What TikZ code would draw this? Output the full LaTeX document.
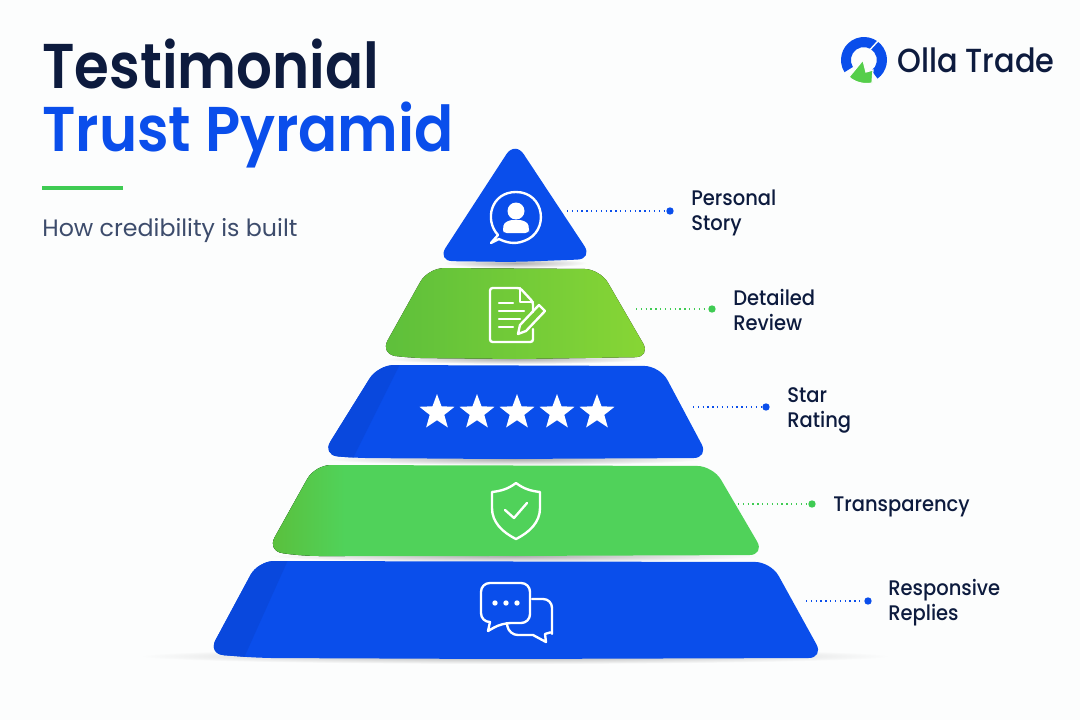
\documentclass[tikz,border=0pt]{standalone}
\usepackage{fontspec}
\setmainfont{Poppins}[BoldFont={Poppins SemiBold}]
\newfontfamily\medfont{Poppins Medium}
\usetikzlibrary{shapes.geometric}
\definecolor{pagebg}{HTML}{FCFDFD}
\definecolor{inkdark}{HTML}{0D1B3E}
\definecolor{inksub}{HTML}{3D4C6C}
\definecolor{trustblue}{HTML}{0A4EEB}
\definecolor{bluedeep}{HTML}{0948DD}
\definecolor{trustgreen}{HTML}{3FCB53}
\definecolor{greenA}{HTML}{5DBF3B}
\definecolor{greenB}{HTML}{88D635}
\definecolor{greenC}{HTML}{50D25A}
\definecolor{greenD}{HTML}{5CBD38}
\tikzset{
    tierlabel/.style={anchor=west, align=left, inner sep=0pt, xscale=0.925, text=inkdark, font=\medfont\fontsize{12}{14.2}\selectfont},
    enddot/.style={circle, inner sep=0pt, minimum size=4.2pt},
    leader/.style={dotted, line width=0.75pt},
    iconline/.style={draw=white, line width=1.35pt, line join=round, line cap=round},
    tiershadow/.style={shade, inner color=black!32, outer color=pagebg},
    ministar/.style={star, star points=5, star point ratio=2.4, fill=white, inner sep=0pt, minimum size=21pt},
    bigtitle/.style={anchor=base west, inner sep=0pt, font=\fontsize{36}{36}\selectfont\bfseries},
}
\begin{document}
\begin{tikzpicture}[x=0.02cm, y=-0.02cm]
    \useasboundingbox (0,0) rectangle (1080,720);
    \fill[pagebg] (0,0) rectangle (1080,720);

    % HEADING
    \node[bigtitle, text=inkdark, xscale=0.89] (title) at (42,89) {Testimonial};
    \node[bigtitle, text=trustblue, xscale=0.915] (subject) at (42,151) {Trust Pyramid};
    \fill[trustgreen] (42,186) rectangle (123,190);
    \node[anchor=base west, inner sep=0pt, text=inksub, font=\fontsize{13.5}{16}\selectfont] (strap) at (42,236) {How credibility is built};

    % LOGO
    \fill[trustblue] (864,60) ++(148:23) arc[start angle=148, end angle=414, radius=23] -- ++(-6,-8)
        arc[start angle=414, end angle=148, radius=13] -- cycle;
    \fill[trustgreen!70!greenB, draw=pagebg, line width=0.7pt] (863,60) -- (849,77) .. controls (854,82) and (864,85) .. (872,83) -- (873,70) -- (866,72) -- cycle;
    \draw[pagebg, line width=0.8pt] (866,54) -- (878,41);
    \node[anchor=base west, inner sep=0pt, xscale=0.91, text=inkdark, font=\medfont\fontsize{19}{20}\selectfont] (brand) at (897,72) {Olla Trade};

    % SHADOWS
    \path[tiershadow] (515,656) ellipse (375 and 8);
    \path[tiershadow] (515,263) ellipse (72 and 5);
    \path[tiershadow] (515,359) ellipse (130 and 5);
    \path[tiershadow] (515,459) ellipse (190 and 6);
    \path[tiershadow] (515,556) ellipse (245 and 6);

    % TIER 5
    \fill[trustblue, rounded corners=9pt] (258,561) -- (771,562) -- (824,658) -- (500,659) -- (260,658) -- (208,654) -- cycle;
    \begin{scope}
        \clip[rounded corners=9pt] (258,561) -- (771,562) -- (824,658) -- (500,659) -- (260,658) -- (208,654) -- cycle;
        \fill[bluedeep] (250,560) -- (288,560) -- (243,660) -- (200,660) -- cycle;
    \end{scope}

    % TIER 4
    \begin{scope}
        \clip[rounded corners=9pt] (315,465) -- (713,466) -- (765,555) -- (500,556) -- (303,556) -- (267,551) -- cycle;
        \fill[greenC] (260,460) rectangle (770,560);
        \fill[left color=greenD, right color=greenC] (260,460) rectangle (345,560);
    \end{scope}

    % TIER 3
    \fill[trustblue, rounded corners=9pt] (378,365) -- (660,366) -- (709,458) -- (500,459) -- (355,458) -- (322,455) -- cycle;
    \begin{scope}
        \clip[rounded corners=9pt] (378,365) -- (660,366) -- (709,458) -- (500,459) -- (355,458) -- (322,455) -- cycle;
        \fill[bluedeep] (370,360) -- (402,360) -- (352,460) -- (315,460) -- cycle;
    \end{scope}

    % TIER 2
    \fill[left color=greenA, right color=greenB, rounded corners=9pt] (428,268) -- (600,269) -- (651,357) -- (520,359) -- (410,358) -- (380,354) -- cycle;

    % TIER 1
    \fill[trustblue, rounded corners=9pt] (515,141) -- (593,259) -- (515,262) -- (437,261) -- cycle;

    % CONNECTORS
    \foreach \nm/\xa/\xb/\yy/\col in {story/567/670/211/trustblue, review/636/712/309/trustgreen,
                                      rating/693/766/407/trustblue, clear/738/812/504/trustgreen,
                                      reply/806/868/601/trustblue} {
        \coordinate (\nm start) at (\xa,\yy);
        \node[enddot, fill=\col] (\nm dot) at (\xb,\yy) {};
        \draw[leader, draw=\col] (\nm start) -- (\nm dot);
    }

    % LABELS
    \node[tierlabel] (story) at (691,212.5) {Personal\\Story};
    \node[tierlabel] (review) at (733,310) {Detailed\\Review};
    \node[tierlabel] (rating) at (787,410.5) {Star\\Rating};
    \node[tierlabel] (clear) at (833,507) {Transparency};
    \node[tierlabel] (reply) at (888,602.5) {Responsive\\Replies};

    % Person in a speech bubble
    \draw[iconline] (498,235) .. controls (484,220) and (491,192) .. (516,192)
        .. controls (545,192) and (550,232) .. (524,241) .. controls (514,245) and (505,242) .. (499,239)
        -- (491,243) -- cycle;
    \fill[white] (516,211) circle (8.5);
    \fill[white, rounded corners=2pt] (503,233) -- (503,229) .. controls (504,222) and (510,220) .. (516,220)
        .. controls (522,220) and (528,222) .. (529,229) -- (529,233) -- cycle;

    % Document and pencil
    \draw[iconline, rounded corners=1.5pt] (533,312) -- (533,302) -- (520,288) -- (490,288) -- (490,342) -- (533,342) -- (533,329);
    \draw[iconline] (520,288) -- (520,302) -- (533,302);
    \foreach \xb/\yy in {513/303, 524/311, 520/319, 513/327}
        \draw[iconline] (499,\yy) -- (\xb,\yy);
    \draw[iconline] (518,334) -- (520,325) -- (539,305) -- (545,311) -- (526,331) -- cycle;

    % Five stars
    \foreach \nm/\xa in {a/437, b/477, c/517, d/557, e/597}
        \node[ministar] (star\nm) at (\xa,412.5) {};

    % Shield with check
    \draw[iconline] (516,483) .. controls (524,489) and (531,491) .. (540,492) -- (540,508)
        .. controls (540,522) and (530,532) .. (516,539) .. controls (502,532) and (492,522) .. (492,508)
        -- (492,492) .. controls (501,491) and (508,489) .. (516,483) -- cycle;
    \draw[iconline] (505,510) -- (514,518) -- (527,503);

    % Chat bubbles
    \draw[iconline, rounded corners=5pt] (481,600) -- (481,583) -- (530,583) -- (530,623) -- (502,623)
        [sharp corners] -- (488,631) -- (490,622) [rounded corners=5pt] -- (481,622) -- (481,600);
    \draw[iconline, rounded corners=5pt] (532,599) -- (552,599) -- (552,625)
        [sharp corners] .. controls (552,631) and (549,633) .. (545,634) -- (546,642) -- (533,635)
        [rounded corners=5pt] -- (509,635) -- (507,624);
    \foreach \xa in {495,506,517}
        \fill[white] (\xa,603) circle (2.7);
\end{tikzpicture}
\end{document}
